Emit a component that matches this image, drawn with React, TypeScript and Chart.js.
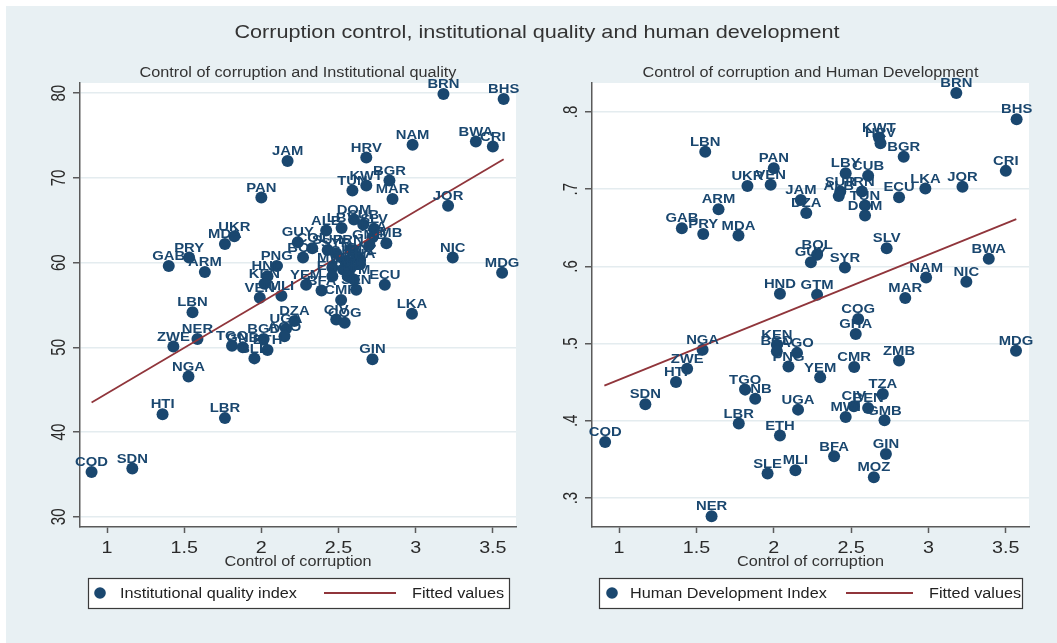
import React, { useEffect, useRef } from 'react';
import { Chart, registerables } from 'chart.js';

Chart.register(...registerables);

// ---------------- data ----------------
const mainTitle = 'Corruption control, institutional quality and human development';
const xAxisTitle = 'Control of corruption';
const fittedLabel = 'Fitted values';

// Panel 1: Control of corruption vs Institutional quality index
const iqSubtitle = 'Control of corruption and Institutional quality';
const iqLegendLabel = 'Institutional quality index';
const iqCodes = [
  'BRN', 'BHS', 'NAM', 'BWA', 'CRI', 'JAM', 'HRV', 'BGR', 'KWT', 'TUN',
  'MAR', 'PAN', 'JOR', 'DOM', 'ALB', 'LBY', 'CUB', 'SLV', 'TZA', 'ZMB',
  'GMB', 'UKR', 'MDA', 'PRY', 'GAB', 'ARM', 'GUY', 'COL', 'SUR', 'BOL',
  'SYR', 'IRN', 'MOZ', 'GHA', 'IDN', 'MWI', 'BEN', 'IND', 'EGY', 'PHL',
  'GTM', 'THA', 'PNG', 'HND', 'KEN', 'VEN', 'MLI', 'YEM', 'BFA', 'CMR',
  'SEN', 'ECU', 'LKA', 'LBN', 'DZA', 'CIV', 'COG', 'UGA', 'BGD', 'AGO',
  'NER', 'ZWE', 'TGO', 'GNB', 'ETH', 'SLE', 'NGA', 'GIN', 'HTI', 'LBR',
  'COD', 'SDN', 'NIC', 'MDG',
];
const iqCorruption = [
  3.18, 3.57, 2.98, 3.39, 3.50, 2.17, 2.68, 2.83, 2.68, 2.59,
  2.85, 2.00, 3.21, 2.60, 2.42, 2.52, 2.66, 2.73, 2.72, 2.81,
  2.70, 1.825, 1.764, 1.532, 1.40, 1.634, 2.236, 2.33, 2.43, 2.27,
  2.485, 2.58, 2.64, 2.55, 2.615, 2.46, 2.58, 2.53, 2.46, 2.56,
  2.60, 2.64, 2.10, 2.04, 2.02, 1.99, 2.13, 2.29, 2.39, 2.517,
  2.615, 2.80, 2.976, 1.554, 2.214, 2.485, 2.54, 2.16, 2.015, 2.15,
  1.586, 1.43, 1.81, 1.88, 2.04, 1.955, 1.528, 2.72, 1.36, 1.764,
  0.90, 1.164, 3.24, 3.56,
];
const iqIndex = [
  79.9, 79.3, 73.9, 74.3, 73.7, 72.0, 72.4, 69.7, 69.1, 68.5,
  67.5, 67.7, 66.7, 65.1, 63.8, 64.1, 64.5, 64.0, 63.0, 62.3,
  62.1, 63.1, 62.2, 60.6, 59.6, 58.9, 62.4, 61.7, 61.5, 60.6,
  61.1, 61.5, 60.3, 60.2, 60.6, 59.4, 59.4, 59.2, 58.4, 58.4,
  58.0, 59.8, 59.6, 58.4, 57.5, 55.85, 56.1, 57.4, 56.7, 55.6,
  56.8, 57.4, 53.96, 54.15, 53.1, 53.3, 52.9, 52.2, 51.0, 51.3,
  51.0, 50.1, 50.2, 50.0, 49.7, 48.7, 46.55, 48.6, 42.1, 41.65,
  35.3, 35.7, 60.6, 58.8,
];
const iqFitCorruption = [0.9, 3.57];
const iqFitted = [43.5, 72.2];
const iqYTicksStep = 10;

// Panel 2: Control of corruption vs Human Development Index
const hdiSubtitle = 'Control of corruption and Human Development';
const hdiLegendLabel = 'Human Development Index';
const hdiCodes = [
  'BRN', 'BHS', 'KWT', 'HRV', 'BGR', 'LBN', 'PAN', 'CRI', 'LBY', 'CUB',
  'UKR', 'VEN', 'LKA', 'JOR', 'SUR', 'ALB', 'IRN', 'ECU', 'JAM', 'DZA',
  'TUN', 'DOM', 'ARM', 'GAB', 'PRY', 'MDA', 'BOL', 'GUY', 'SYR', 'SLV',
  'BWA', 'NAM', 'NIC', 'HND', 'GTM', 'MAR', 'COG', 'GHA', 'MDG', 'NGA',
  'KEN', 'BGD', 'AGO', 'PNG', 'ZMB', 'CMR', 'ZWE', 'YEM', 'HTI', 'TGO',
  'GNB', 'SDN', 'TZA', 'CIV', 'BEN', 'MWI', 'GMB', 'UGA', 'LBR', 'COD',
  'ETH', 'BFA', 'GIN', 'SLE', 'MLI', 'MOZ', 'NER',
];
const hdiCorruption = [
  3.18, 3.57, 2.68, 2.69, 2.84, 1.557, 2.00, 3.50, 2.465, 2.61,
  1.83, 1.98, 2.98, 3.22, 2.43, 2.42, 2.57, 2.81, 2.175, 2.21,
  2.59, 2.59, 1.643, 1.406, 1.544, 1.772, 2.28, 2.24, 2.46, 2.73,
  3.39, 2.985, 3.245, 2.04, 2.28, 2.85, 2.546, 2.53, 3.566, 1.54,
  2.02, 2.02, 2.15, 2.095, 2.81, 2.52, 1.44, 2.30, 1.368, 1.815,
  1.88, 1.17, 2.705, 2.518, 2.61, 2.465, 2.716, 2.157, 1.774, 0.91,
  2.04, 2.39, 2.725, 1.96, 2.14, 2.647, 1.598,
];
const hdiIndex = [
  0.8246, 0.7905, 0.767, 0.7595, 0.742, 0.7486, 0.727, 0.7237, 0.7207, 0.7175,
  0.704, 0.7056, 0.701, 0.703, 0.697, 0.691, 0.697, 0.6896, 0.686, 0.669,
  0.679, 0.666, 0.674, 0.6495, 0.642, 0.640, 0.615, 0.6055, 0.5986, 0.6236,
  0.610, 0.5856, 0.580, 0.5646, 0.5633, 0.559, 0.532, 0.5124, 0.4908, 0.492,
  0.4986, 0.490, 0.488, 0.4705, 0.478, 0.4697, 0.4675, 0.4563, 0.4503, 0.4404,
  0.4287, 0.4214, 0.4348, 0.419, 0.4167, 0.405, 0.4006, 0.4145, 0.3964, 0.3727,
  0.381, 0.354, 0.357, 0.3317, 0.336, 0.327, 0.2765,
];
const hdiFitCorruption = [0.905, 3.568];
const hdiFitted = [0.4455, 0.6612];
const hdiYTicksStep = 0.1;

// ---------------- styles ----------------
const FONT = '"Liberation Sans", Arial, Helvetica, sans-serif';
const BG = '#e8f0f3';
const NAVY = '#1a476f';
const FIT = '#90353b';
const AXIS = '#5a5a5a';
const GRID = '#e4ecef';
const TEXT = '#333333';
const SX = 1.16;

type PanelCfg = {
  codes: string[];
  xs: number[];
  ys: number[];
  fitXs: number[];
  fitYs: number[];
  yMin: number;
  yMax: number;
  yStep: number;
  yFormat: (v: number) => string;
  subtitle: string;
  legendLabel: string;
  canvasW: number;
  padLeft: number;
  padRight: number;
  legendW: number;
  legDot: number;
  legText: number;
  legLine0: number;
  legLine1: number;
  legFitText: number;
};

function txt(ctx: CanvasRenderingContext2D, s: string, x: number, y: number, size: number, color: string, align: CanvasTextAlign, sx = SX, weight = 'normal') {
  ctx.save();
  ctx.font = `${weight} ${size}px ${FONT}`;
  ctx.fillStyle = color;
  ctx.textAlign = align;
  ctx.textBaseline = 'alphabetic';
  ctx.translate(x, y);
  ctx.scale(sx, 1);
  ctx.fillText(s, 0, size * 0.358);
  ctx.restore();
}

function vtxt(ctx: CanvasRenderingContext2D, s: string, x: number, y: number, size: number, color: string, sx: number) {
  ctx.save();
  ctx.font = `${size}px ${FONT}`;
  ctx.fillStyle = color;
  ctx.textAlign = 'center';
  ctx.textBaseline = 'alphabetic';
  ctx.translate(x, y);
  ctx.scale(sx, 1);
  ctx.rotate(-Math.PI / 2);
  ctx.fillText(s, 0, size * 0.358);
  ctx.restore();
}

function makePlugin(cfg: PanelCfg) {
  return {
    id: 'panelDecor',
    beforeDraw(chart: any) {
      const { ctx, chartArea: a } = chart;
      ctx.save();
      ctx.fillStyle = '#ffffff';
      ctx.fillRect(a.left, a.top, a.right - a.left, a.bottom - a.top);
      ctx.restore();
    },
    afterDatasetsDraw(chart: any) {
      const ctx = chart.ctx as CanvasRenderingContext2D;
      const meta = chart.getDatasetMeta(1);
      meta.data.forEach((pt: any, i: number) => {
        txt(ctx, cfg.codes[i], pt.x, pt.y - 10.5, 13, NAVY, 'center', 1.14, 'bold');
      });
    },
    afterDraw(chart: any) {
      const ctx = chart.ctx as CanvasRenderingContext2D;
      const a = chart.chartArea;
      const xs = chart.scales.x;
      const ys = chart.scales.y;
      const cx = (a.left + a.right) / 2;
      // subtitle
      txt(ctx, cfg.subtitle, cx, a.top - 11, 14, TEXT, 'center');
      // x tick labels
      xs.ticks.forEach((t: any) => {
        const px = xs.getPixelForValue(t.value);
        txt(ctx, String(t.value), px, a.bottom + 20, 17, '#2a2a2a', 'center', 1.16);
      });
      // y tick labels (rotated)
      ys.ticks.forEach((t: any) => {
        const py = ys.getPixelForValue(t.value);
        vtxt(ctx, cfg.yFormat(t.value), a.left - 23, py, 15, '#2a2a2a', 1.4);
      });
      // x title
      txt(ctx, xAxisTitle, cx, a.bottom + 34, 14, TEXT, 'center');
      // legend
      const bx = Math.round(cx - cfg.legendW / 2);
      const by = Math.round(a.bottom + 51);
      const bh = 30;
      const my = by + bh / 2;
      ctx.save();
      ctx.fillStyle = '#ffffff';
      ctx.fillRect(bx, by, cfg.legendW, bh);
      ctx.strokeStyle = '#3a3a3a';
      ctx.lineWidth = 1.2;
      ctx.strokeRect(bx + 0.5, by + 0.5, cfg.legendW, bh);
      ctx.fillStyle = NAVY;
      ctx.beginPath();
      ctx.arc(bx + cfg.legDot, my, 5.8, 0, Math.PI * 2);
      ctx.fill();
      ctx.strokeStyle = FIT;
      ctx.lineWidth = 1.8;
      ctx.beginPath();
      ctx.moveTo(bx + cfg.legLine0, my);
      ctx.lineTo(bx + cfg.legLine1, my);
      ctx.stroke();
      ctx.restore();
      txt(ctx, cfg.legendLabel, bx + cfg.legText, my, 14, '#222222', 'left');
      txt(ctx, fittedLabel, bx + cfg.legFitText, my, 14, '#222222', 'left');
    },
  };
}

function buildChart(canvas: HTMLCanvasElement, cfg: PanelCfg) {
  return new Chart(canvas, {
    type: 'scatter',
    data: {
      datasets: [
        {
          type: 'line',
          label: fittedLabel,
          data: cfg.fitXs.map((x, i) => ({ x, y: cfg.fitYs[i] })),
          borderColor: FIT,
          borderWidth: 1.8,
          pointRadius: 0,
          fill: false,
          tension: 0,
          order: 0,
        } as any,
        {
          type: 'scatter',
          label: cfg.legendLabel,
          data: cfg.xs.map((x, i) => ({ x, y: cfg.ys[i] })),
          backgroundColor: NAVY,
          borderWidth: 0,
          pointRadius: 6,
          pointHoverRadius: 6,
          clip: false,
          order: 1,
        } as any,
      ],
    },
    options: {
      animation: false,
      responsive: false,
      maintainAspectRatio: false,
      events: [],
      layout: { padding: { left: cfg.padLeft, right: cfg.padRight, top: 83, bottom: 106 } },
      plugins: { legend: { display: false }, tooltip: { enabled: false }, title: { display: false } },
      scales: {
        x: {
          type: 'linear',
          min: 0.825,
          max: 3.65,
          afterFit: (s: any) => { s.height = 10; },
          ticks: { display: false, stepSize: 0.5, includeBounds: false },
          grid: { drawOnChartArea: false, drawTicks: true, tickLength: 6, tickColor: AXIS, tickWidth: 1.5, color: AXIS },
          border: { display: true, color: AXIS, width: 1.5 },
        },
        y: {
          type: 'linear',
          min: cfg.yMin,
          max: cfg.yMax,
          afterFit: (s: any) => { s.width = 10; },
          ticks: { display: false, stepSize: cfg.yStep, includeBounds: false },
          grid: { color: GRID, lineWidth: 1.5, drawTicks: true, tickLength: 7, tickColor: AXIS, tickWidth: 1.5 },
          border: { display: true, color: AXIS, width: 1.5 },
        },
      },
    } as any,
    plugins: [makePlugin(cfg) as any],
  });
}

const leftCfg: PanelCfg = {
  codes: iqCodes, xs: iqCorruption, ys: iqIndex,
  fitXs: iqFitCorruption, fitYs: iqFitted,
  yMin: 28.8, yMax: 81.2, yStep: iqYTicksStep,
  yFormat: (v) => String(Math.round(v)),
  subtitle: iqSubtitle, legendLabel: iqLegendLabel,
  canvasW: 528, padLeft: 70, padRight: 12,
  legendW: 421, legDot: 12, legText: 32, legLine0: 236, legLine1: 308, legFitText: 324,
};

const rightCfg: PanelCfg = {
  codes: hdiCodes, xs: hdiCorruption, ys: hdiIndex,
  fitXs: hdiFitCorruption, fitYs: hdiFitted,
  yMin: 0.2625, yMax: 0.8375, yStep: hdiYTicksStep,
  yFormat: (v) => v.toFixed(1).replace(/^0/, ''),
  subtitle: hdiSubtitle, legendLabel: hdiLegendLabel,
  canvasW: 529, padLeft: 54, padRight: 28,
  legendW: 423, legDot: 13, legText: 31, legLine0: 247, legLine1: 314, legFitText: 330,
};

export default function App() {
  const leftRef = useRef<HTMLCanvasElement>(null);
  const rightRef = useRef<HTMLCanvasElement>(null);

  useEffect(() => {
    const c1 = buildChart(leftRef.current!, leftCfg);
    const c2 = buildChart(rightRef.current!, rightCfg);
    return () => { c1.destroy(); c2.destroy(); };
  }, []);

  return (
    <div style={{ position: 'fixed', left: 0, top: 0, width: 1057, height: 643, background: '#ffffff', overflow: 'hidden' }}>
      <div style={{ position: 'absolute', left: 6, top: 6, right: 0, bottom: 0, background: BG }} />
      <canvas ref={leftRef} width={528} height={643}
        style={{ position: 'absolute', left: 0, top: 0, width: 528, height: 643 }} />
      <canvas ref={rightRef} width={529} height={643}
        style={{ position: 'absolute', left: 528, top: 0, width: 529, height: 643 }} />
      <div style={{
        position: 'absolute', left: 237, top: 22, width: 600, textAlign: 'center',
        fontFamily: FONT, fontSize: 18.5, lineHeight: '20px', color: TEXT, whiteSpace: 'nowrap',
        transform: 'scaleX(1.17)', transformOrigin: 'center',
      }}>{mainTitle}</div>
    </div>
  );
}
